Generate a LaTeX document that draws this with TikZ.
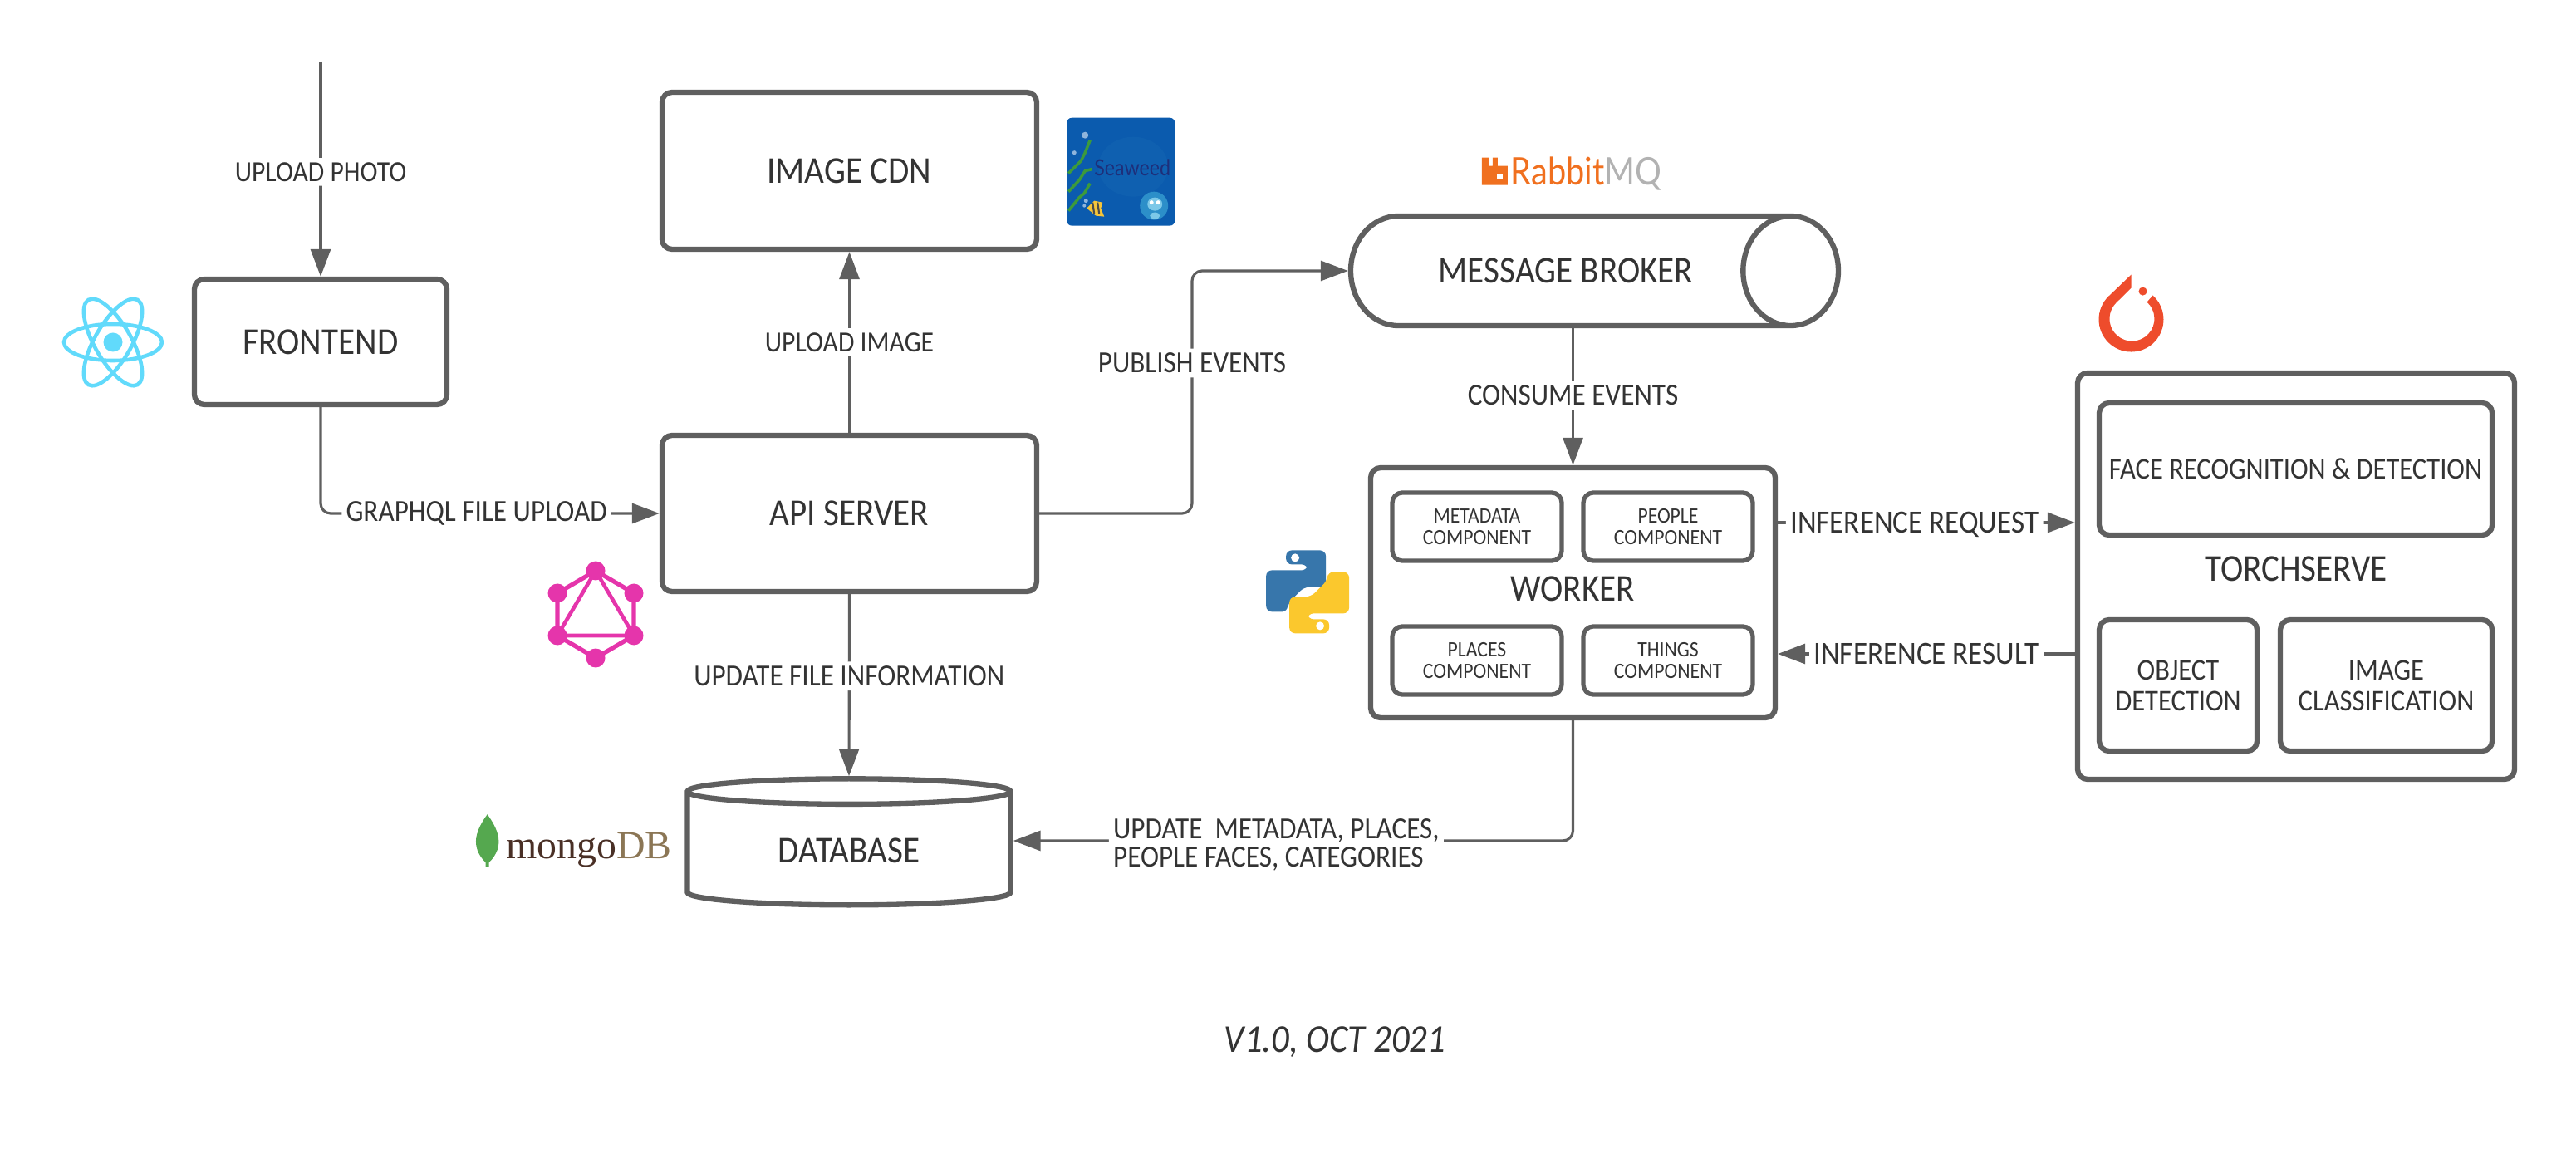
\documentclass[tikz,border=0pt]{standalone}
\usepackage{fontspec}
\usepackage{tikz}
\usetikzlibrary{arrows.meta,shapes.geometric}
\setmainfont[FakeStretch=0.9,ItalicFont={Carlito Italic}]{Carlito}
\newfontfamily\logofont[FakeStretch=0.87]{Lato}
\newfontfamily\mongofont{Liberation Serif}
\definecolor{linegray}{HTML}{5F5F5F}
\definecolor{textgray}{HTML}{333333}
\definecolor{reactblue}{HTML}{61DAFB}
\definecolor{graphpink}{HTML}{E535AB}
\definecolor{torchred}{HTML}{EE4C2C}
\definecolor{rabbitorange}{HTML}{F0701F}
\definecolor{seablue}{HTML}{0B5BAE}
\definecolor{seapatch}{HTML}{0F60B0}
\definecolor{seatext}{HTML}{1E2F7A}
\definecolor{seagreen}{HTML}{3C9A3C}
\definecolor{seabubble}{HTML}{8FB4DC}
\definecolor{fishyellow}{HTML}{F5C53A}
\definecolor{octoblue}{HTML}{2C8FC9}
\definecolor{octolight}{HTML}{7CC8E8}
\definecolor{pyblue}{HTML}{3776AB}
\definecolor{pyyellow}{HTML}{FBC82D}
\definecolor{leafgreen}{HTML}{55A84F}
\definecolor{mongodark}{HTML}{4A3026}
\definecolor{mongotan}{HTML}{8B7655}
\tikzset{
  box/.style={draw=linegray, line width=1.8pt, rounded corners=0.12cm, text=textgray, inner sep=1,
    font=\fontsize{13}{15}\selectfont},
  subbox/.style={box, line width=1.5pt, align=center, font=\fontsize{7.5}{7.6}\selectfont},
  midbox/.style={box, align=center, font=\fontsize{10.3}{10.5}\selectfont},
  can/.style={draw=linegray, line width=1.8pt, cylinder, text=textgray, inner sep=1,
    font=\fontsize{13}{15}\selectfont},
  conn/.style={draw=linegray, line width=0.9pt, rounded corners=0.12cm, ->,
    >={Triangle[length=0.33cm,width=0.24cm]}},
  lbl/.style={fill=white, text=textgray, inner sep=1.5, font=\fontsize{10.5}{9.7}\selectfont},
  lblsmall/.style={lbl, font=\fontsize{10}{12}\selectfont},
  lblwide/.style={lbl, font=\fontsize{11.1}{13}\selectfont},
  head/.style={text=textgray, inner sep=0, font=\fontsize{13}{15}\selectfont},
  seaweedline/.style={seagreen, line width=1pt}
}
\begin{document}
\begin{tikzpicture}
        \useasboundingbox (0,0) rectangle (31.01,13.88);

        \node[box, minimum width=3.04cm, minimum height=1.51cm] (FE) at (3.86,9.765) {FRONTEND};
        \node[box, minimum width=4.51cm, minimum height=1.89cm] (CDN) at (10.225,11.825) {IMAGE CDN};
        \node[box, minimum width=4.51cm, minimum height=1.88cm] (API) at (10.225,7.70) {API SERVER};
        \node[can, shape border rotate=90, aspect=0.172, minimum width=3.89cm, minimum height=1.52cm] (DB) at (10.22,3.64) {DATABASE};
        \node[can, aspect=3.1, minimum width=1.32cm, minimum height=5.87cm] (MB) at (18.80,10.62) {\hspace{0.1cm}MESSAGE BROKER};

        \node[box, minimum width=4.87cm, minimum height=3.01cm] (WK) at (18.935,6.745) {};
        \node[head] (WKL) at (18.93,6.79) {WORKER};
        \node[subbox, minimum width=2.04cm, minimum height=0.82cm] (MC) at (17.78,7.54) {METADATA\\COMPONENT};
        \node[subbox, minimum width=2.04cm, minimum height=0.82cm] (PC) at (20.08,7.54) {PEOPLE\\COMPONENT};
        \node[subbox, minimum width=2.04cm, minimum height=0.82cm] (LC) at (17.78,5.93) {PLACES\\COMPONENT};
        \node[subbox, minimum width=2.04cm, minimum height=0.82cm] (TC) at (20.08,5.93) {THINGS\\COMPONENT};

        \node[box, minimum width=5.26cm, minimum height=4.89cm] (TS) at (27.64,6.945) {};
        \node[head] (TSL) at (27.64,7.03) {TORCHSERVE};
        \node[midbox, minimum width=4.73cm, minimum height=1.59cm] (FR) at (27.635,8.235) {FACE RECOGNITION \& DETECTION};
        \node[midbox, minimum width=1.90cm, minimum height=1.58cm] (OD) at (26.22,5.63) {OBJECT\\DETECTION};
        \node[midbox, minimum width=2.55cm, minimum height=1.58cm] (IC) at (28.725,5.63) {IMAGE\\CLASSIFICATION};

        \coordinate (IN) at (3.86,13.13);
        \coordinate (PUB) at (14.35,10.62);

        \path[conn] (IN) -- (FE.north) node[lblsmall, pos=0.5, yshift=-0.3mm] (L1) {UPLOAD PHOTO};
        \path[conn] (FE.south) |- (API.west) node[lbl, pos=0.73] (L2) {GRAPHQL FILE UPLOAD};
        \path[conn] (API.north) -- (CDN.south) node[lblsmall, pos=0.5] (L3) {UPLOAD IMAGE};
        \path[conn] (API.south) -- (DB.north) node[lbl, pos=0.45] (L4) {UPDATE FILE INFORMATION};
        \path[conn] (API.east) -| (PUB) node[lbl, pos=0.81] (L5) {PUBLISH EVENTS} -- (MB.west);
        \path[conn] (MB.south -| WK.north) -- (WK.north) node[lbl, pos=0.49] (L6) {CONSUME EVENTS};
        \path[conn] ([yshift=8.45mm]WK.east) -- ([yshift=8.45mm]WK.east -| TS.west) node[lblwide, pos=0.46, yshift=-0.2mm] (L7) {INFERENCE REQUEST};
        \path[conn] ([yshift=-7.35mm]WK.east -| TS.west) -- ([yshift=-7.35mm]WK.east) node[lblwide, pos=0.5] (L8) {INFERENCE RESULT};
        \path[conn] (WK.south) |- ([yshift=1.2mm]DB.east) node[lbl, pos=0.765, yshift=-0.5mm, align=left] (L9) {UPDATE\ \ METADATA, PLACES,\\PEOPLE FACES, CATEGORIES};

        \node[text=textgray, inner sep=0, font=\fontsize{13.5}{15}\selectfont\itshape] (VER) at (16.07,1.34) {V1.0, OCT 2021};

        % react
        \begin{scope}[shift={(1.36,9.76)}]
                \foreach \a in {0,60,120}
                        \draw[reactblue, line width=1.3pt, rotate=\a] (0,0) ellipse (0.59 and 0.22);
                \fill[reactblue] (0,0) circle (0.115);
        \end{scope}

        % graphql
        \begin{scope}[shift={(7.17,6.48)}]
                \draw[graphpink, line width=1.5pt] (0,0.53) -- (0.46,0.26) -- (0.46,-0.25) -- (0,-0.52) -- (-0.46,-0.25) -- (-0.46,0.26) -- cycle;
                \draw[graphpink, line width=1.3pt] (0,0.53) -- (0.46,-0.25) -- (-0.46,-0.25) -- cycle;
                \foreach \p in {(0,0.53),(0.46,0.26),(0.46,-0.25),(0,-0.52),(-0.46,-0.25),(-0.46,0.26)}
                        \fill[graphpink] \p circle (0.115);
        \end{scope}

        % seaweed
        \begin{scope}[x=0.01cm, y=-0.01cm, shift={(0,-1388)}]
                \fill[seablue, rounded corners=0.06cm] (1285,141) rectangle (1415,271);
                \fill[seapatch] (1365,200) ellipse (42 and 36);
                \draw[seaweedline] (1287,208) -- (1302,193) -- (1307,183) -- (1313,168);
                \draw[seaweedline] (1287,230) -- (1300,216) -- (1307,205) -- (1315,203);
                \draw[seaweedline] (1287,253) -- (1300,237) -- (1306,232) -- (1313,220);
                \fill[seabubble] (1307,162) circle (4) (1294,183) circle (2.5) (1308,241) circle (2.5) (1306,247) circle (2);
                \fill[fishyellow] (1309,250) -- (1318,241) -- (1328,243) -- (1326,250) -- (1330,260) -- (1320,259) -- cycle;
                \draw[black!70, line width=0.6pt] (1316,243) -- (1318,257) (1322,243) -- (1324,257);
                \fill[octoblue] (1390,247) circle (17);
                \fill[octolight] (1391,245) ellipse (9 and 8) (1391,259) ellipse (6 and 4);
                \fill[white] (1387,243) circle (2.5) (1395,243) circle (2.5);
                \node[text=seatext, inner sep=0, font=\logofont\fontsize{7.6}{9}\selectfont] (SW) at (1364,201) {Seaweed};
        \end{scope}

        % rabbitmq
        \begin{scope}[x=0.01cm, y=-0.01cm, shift={(0,-1388)}]
                \fill[rabbitorange] (1785,189) -- (1793,189) -- (1793,199) -- (1798,199) -- (1798,189) -- (1804,189) -- (1804,199) -- (1816,199) -- (1816,222) -- (1785,222) -- cycle;
                \fill[white] (1803,208) rectangle (1810,214);
                \node[anchor=west, inner sep=0, font=\logofont\fontsize{13}{15}\selectfont] (RMQ) at (1819,208) {\textcolor{rabbitorange}{Rabbit}\textcolor{gray!60}{MQ}};
        \end{scope}

        % python
        \begin{scope}[x=0.01cm, y=0.01cm, shift={(1575,676)}]
                \foreach \a/\c in {0/pyblue,180/pyyellow}
                        \fill[\c, rounded corners=0.07cm, rotate=\a] (-26,50) -- (22,50) -- (22,6) -- (-4,6) -- (-24,-14) -- (-24,-24) -- (-50,-24) -- (-50,26) -- (0,26) -- (0,33) -- (-26,33) -- cycle;
                \fill[white] (-15,41) circle (5) (15,-41) circle (5);
        \end{scope}

        % pytorch
        \begin{scope}[x=0.01cm, y=0.01cm, shift={(2567,1004)}]
                \fill[torchred] (0,54) -- (-27.6,27.6) arc (135:408:39) -- (19,21) arc (48:-225:27) -- (0,38) -- cycle;
                \fill[torchred] (14,34) circle (5);
        \end{scope}

        % mongodb
        \begin{scope}[x=0.01cm, y=0.01cm, shift={(0,345)}]
                \fill[leafgreen] (587,63) .. controls (574,45) and (565,25) .. (585,5) -- (585,0) -- (589,0) -- (589,5) .. controls (609,25) and (600,45) .. (587,63) -- cycle;
                \node[anchor=base west, inner sep=0, font=\mongofont\fontsize{13.6}{15}\selectfont] (MDB) at (609,10) {\textcolor{mongodark}{mongo}\textcolor{mongotan}{DB}};
        \end{scope}
\end{tikzpicture}
\end{document}
